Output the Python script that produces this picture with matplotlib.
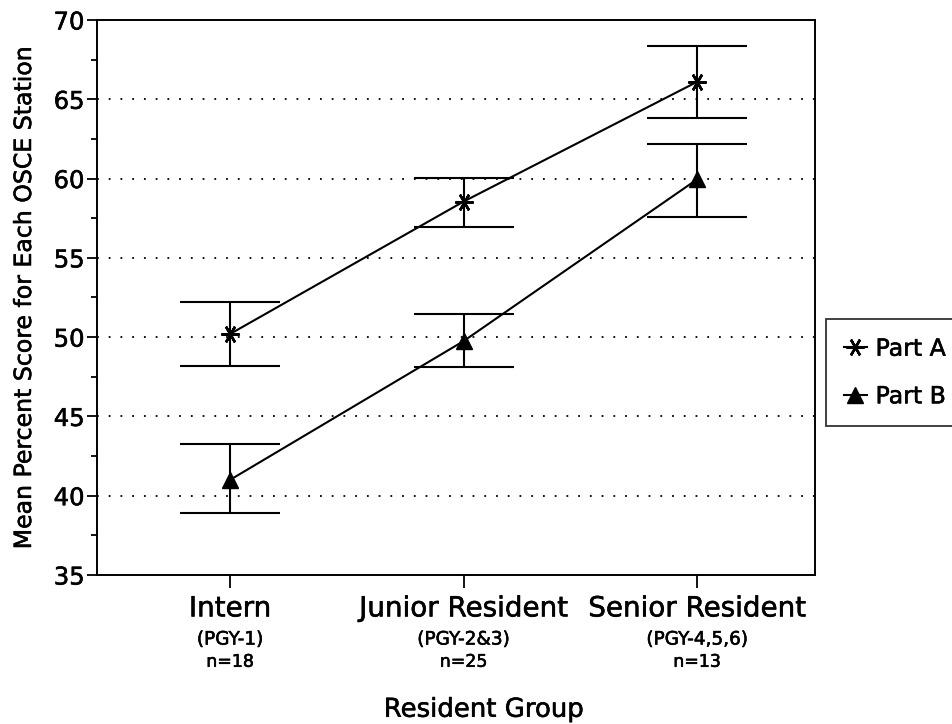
import numpy as np
import matplotlib
matplotlib.use('Agg')
import matplotlib.pyplot as plt
import matplotlib.patheffects as pe
from matplotlib.ticker import MultipleLocator

plt.rcParams['font.family'] = ['DejaVu Sans']

# Данные
groups = ['Intern', 'Junior Resident', 'Senior Resident']
pgy = ['(PGY-1)', '(PGY-2&3)', '(PGY-4,5,6)']
counts = ['n=18', 'n=25', 'n=13']

part_a = [50.2, 58.55, 66.1]
part_a_low = [48.2, 56.95, 63.8]
part_a_high = [52.2, 60.05, 68.35]

part_b = [41.0, 49.75, 59.95]
part_b_low = [38.9, 48.1, 57.55]
part_b_high = [43.25, 51.45, 62.15]

x = np.arange(len(groups))

# Немного утолщаем текст, как в скане
bold_fx = [pe.withStroke(linewidth=0.4, foreground='black')]

fig = plt.figure(figsize=(9.52, 7.24), dpi=100)
ax = fig.add_axes([0.1019, 0.2058, 0.7542, 0.7666])

# Сетка пунктиром
for yv in range(40, 70, 5):
    ax.axhline(yv, color='black', linewidth=1.3, linestyle=(0, (1, 5.5)), zorder=0)

star = (6, 2, 90)
for vals, lo, hi in [(part_a, part_a_low, part_a_high),
                     (part_b, part_b_low, part_b_high)]:
    vals = np.array(vals)
    yerr = [vals - np.array(lo), np.array(hi) - vals]
    ax.errorbar(x, vals, yerr=yerr, fmt='none', ecolor='black', elinewidth=1.5,
                capsize=36, capthick=1.5, zorder=2)

line_a, = ax.plot(x, part_a, color='black', linewidth=1.5, marker=star,
                  markersize=13, markeredgewidth=1.8, zorder=3)
line_b, = ax.plot(x, part_b, color='black', linewidth=1.5, marker='^',
                  markersize=11, zorder=3)

ax.set_xlim(-0.57, 2.505)
ax.set_ylim(35, 70)
ax.yaxis.set_major_locator(MultipleLocator(5))
ax.yaxis.set_minor_locator(MultipleLocator(2.5))
ax.set_xticks(x)
ax.set_xticklabels([])
ax.tick_params(axis='y', which='major', direction='out', length=7, width=1.3,
               labelsize=17.5, pad=2)
ax.tick_params(axis='y', which='minor', direction='out', length=4, width=1.3)
ax.tick_params(axis='x', direction='out', length=9, width=1.3)
for lab in ax.get_yticklabels():
    lab.set_path_effects(bold_fx)
for s in ax.spines.values():
    s.set_linewidth(1.4)

# Подписи категорий в три строки
for i in x:
    ax.annotate(groups[i], (i, 0), xycoords=('data', 'axes fraction'),
                xytext=(0, -14), textcoords='offset points',
                ha='center', va='top', fontsize=20, path_effects=bold_fx)
    ax.annotate(pgy[i], (i, 0), xycoords=('data', 'axes fraction'),
                xytext=(0, -40), textcoords='offset points',
                ha='center', va='top', fontsize=13.3, path_effects=bold_fx)
    ax.annotate(counts[i], (i, 0), xycoords=('data', 'axes fraction'),
                xytext=(0, -56), textcoords='offset points',
                ha='center', va='top', fontsize=12.5, path_effects=bold_fx)

fig.text(0.5084, 0.01, 'Resident Group', ha='center', va='baseline',
         fontsize=18.7, path_effects=bold_fx)
ax.set_ylabel('Mean Percent Score for Each OSCE Station', fontsize=17,
              path_effects=bold_fx)
ax.yaxis.set_label_coords(-0.085, 0.5)

leg = fig.legend([line_a, line_b], ['Part A', 'Part B'], loc='upper left',
                 bbox_to_anchor=(0.8676, 0.5594), borderaxespad=0, fontsize=17,
                 frameon=True, fancybox=False, edgecolor='black',
                 handlelength=1.0, handletextpad=0.35, borderpad=0.75,
                 labelspacing=1.0)
leg.get_frame().set_linewidth(1.3)
for t in leg.get_texts():
    t.set_path_effects(bold_fx)

fig.savefig('out.png', dpi=100)
